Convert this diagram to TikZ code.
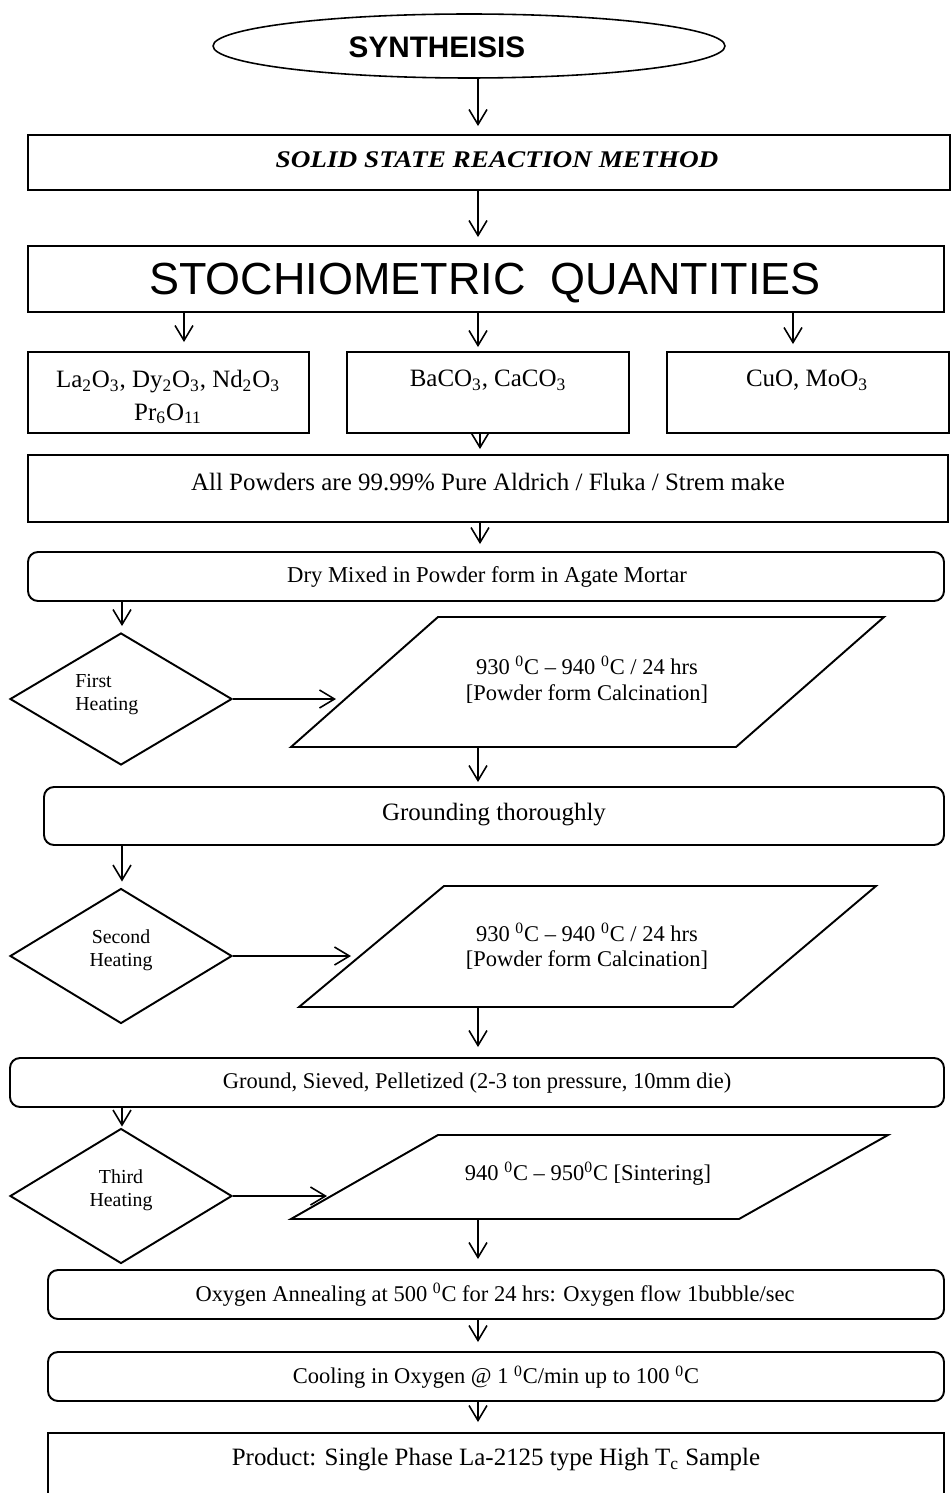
\documentclass[tikz,border=0pt]{standalone}
\usepackage{graphicx}
\usepackage{fontspec}
\setmainfont{Liberation Serif}
\newfontfamily\arialf{Liberation Sans}
\usetikzlibrary{shapes.geometric,arrows.meta,fit}
\newcommand\chsub[1]{\textsubscript{#1}}
\newcommand\degz{\textsuperscript{0}}
\begin{document}
\begin{tikzpicture}[x=0.02cm,y=-0.02cm,
  box/.style={draw,line width=1.1pt,inner sep=0pt},
  rbox/.style={box,rounded corners=0.2cm},
  dia/.style={diamond,draw,line width=1.1pt,inner sep=0pt,minimum width=4.44cm,minimum height=2.70cm},
  para/.style={draw,line width=1.1pt,line join=miter},
  arr/.style={line width=0.9pt,-{Straight Barb[length=0.3cm,width=0.36cm,line width=0.9pt]}},
  lbl/.style={inner sep=0pt,align=center},
  fbig/.style={font=\fontsize{14.2}{18.7}\selectfont},
  fmid/.style={font=\fontsize{12.8}{14.7}\selectfont},
  fsmall/.style={font=\fontsize{11.3}{13.3}\selectfont}]
\useasboundingbox (0,0) rectangle (951,1493);
\clip (0,0) rectangle (951,1493);
% column coordinates
\coordinate (cx) at (478,0);
\coordinate (c1) at (184,0);
\coordinate (c2) at (480,0);
\coordinate (c3) at (793,0);
\coordinate (cl) at (122,0);
% ellipse
\node[ellipse,draw,line width=0.9pt,minimum width=10.24cm,minimum height=1.28cm,inner sep=0pt] (ell) at (469,46) {};
\node[lbl,font=\arialf\bfseries\fontsize{16.9}{20}\selectfont] (tell) at (437,47) {SYNTHEISIS};
% solid state
\node[box,fit={(28,135)(950,190)}] (solid) {};
\node[lbl,font=\bfseries\itshape\fontsize{13.6}{16}\selectfont] (tsolid) at (497,160) {\scalebox{1.14}[1]{SOLID STATE REACTION METHOD}};
% stoichiometric
\node[box,fit={(28,246)(944,312)}] (stoch) {};
\node[lbl,font=\arialf\fontsize{25.6}{30}\selectfont] (tstoch) at (485,283) {STOCHIOMETRIC\ \ QUANTITIES};
% three boxes
\node[box,fit={(28,352)(309,433)}] (b1) {};
\node[box,fit={(347,352)(629,433)}] (b2) {};
\node[box,fit={(667,352)(949,433)}] (b3) {};
\node[lbl,fbig] (tb1) at (168,397) {La\chsub{2}O\chsub{3}, Dy\chsub{2}O\chsub{3}, Nd\chsub{2}O\chsub{3}\\Pr\chsub{6}O\chsub{11}};
\node[lbl,fbig] (tb2) at (488,380) {BaCO\chsub{3}, CaCO\chsub{3}};
\node[lbl,fbig] (tb3) at (807,380) {CuO, MoO\chsub{3}};
% all powders
\node[box,fit={(28,455)(948,522)}] (allp) {};
\node[lbl,fbig] (tallp) at (488,482) {All Powders are 99.99\% Pure Aldrich / Fluka / Strem make};
% dry mixed
\node[rbox,fit={(28,552)(944,601)}] (dry) {};
\node[lbl,font=\fontsize{12.9}{15}\selectfont] (tdry) at (487,577) {Dry Mixed in Powder form in Agate Mortar};
% first heating
\node[dia,minimum height=2.64cm] (d1) at (121,699) {};
\node[lbl,fsmall,anchor=west,align=left] (td1) at (75,694.5) {First\\Heating};
\draw[para] (438,617) -- (884,617) -- (736,747) -- (291,747) -- cycle;
\coordinate (p1in) at (336,699);
\coordinate (p1b) at (478,747);
\node[lbl,fmid] (tp1) at (587,680) {930 \degz C – 940 \degz C / 24 hrs\\{[}Powder form Calcination{]}};
% grounding
\node[rbox,fit={(44,787)(944,845)}] (grd) {};
\node[lbl,fbig] (tgrd) at (494,815) {Grounding thoroughly};
% second heating
\node[dia] (d2) at (121,956) {};
\node[lbl,fsmall] (td2) at (121,950) {Second\\Heating};
\draw[para] (444,886) -- (876,886) -- (733,1007) -- (299,1007) -- cycle;
\coordinate (p2in) at (351,956);
\coordinate (p2b) at (478,1007);
\node[lbl,fmid] (tp2) at (587,946.5) {930 \degz C – 940 \degz C / 24 hrs\\{[}Powder form Calcination{]}};
% ground sieved
\node[rbox,fit={(10,1058)(944,1107)}] (gsp) {};
\node[lbl,fmid] (tgsp) at (477,1083) {Ground, Sieved, Pelletized (2-3 ton pressure, 10mm die)};
% third heating
\node[dia] (d3) at (121,1196) {};
\node[lbl,fsmall] (td3) at (121,1190) {Third\\Heating};
\draw[para] (438,1135) -- (888,1135) -- (739,1219) -- (291,1219) -- cycle;
\coordinate (p3in) at (327,1196);
\coordinate (p3b) at (478,1219);
\node[lbl,fmid] (tp3) at (588,1174) {940 \degz C – 950\degz C {[}Sintering{]}};
% oxygen annealing
\node[rbox,fit={(48,1270)(944,1319)}] (oxy) {};
\node[lbl,fmid] (toxy) at (495,1295) {Oxygen Annealing at 500 \degz C for 24 hrs: Oxygen flow 1bubble/sec};
% cooling
\node[rbox,fit={(48,1352)(944,1401)}] (cool) {};
\node[lbl,fmid] (tcool) at (496,1377) {Cooling in Oxygen @ 1 \degz C/min up to 100 \degz C};
% product
\node[box,fit={(48,1433)(944,1520)}] (prod) {};
\node[lbl,fbig] (tprod) at (496,1460) {Product: Single Phase La-2125 type High T\chsub{c} Sample};
% connectors
\draw[arr,shorten >=0.16cm] (cx |- ell.south) -- (cx |- solid.north);
\draw[arr,shorten >=0.16cm] (cx |- solid.south) -- (cx |- stoch.north);
\draw[arr,shorten >=0.18cm] (c1 |- stoch.south) -- (c1 |- b1.north);
\draw[arr,shorten >=0.08cm] (cx |- stoch.south) -- (cx |- b2.north);
\draw[arr,shorten >=0.14cm] (c3 |- stoch.south) -- (c3 |- b3.north);
\draw[arr,shorten >=0.10cm] (c2 |- b2.south) -- (c2 |- allp.north);
\draw[arr,shorten >=0.14cm] (c2 |- allp.south) -- (c2 |- dry.north);
\draw[arr,shorten >=0.12cm] (cl |- dry.south) -- (cl |- d1.north);
\draw[arr] (d1.east) -- (p1in);
\draw[arr,shorten >=0.08cm] (p1b) -- (cx |- grd.north);
\draw[arr,shorten >=0.12cm] (cl |- grd.south) -- (cl |- d2.north);
\draw[arr] (d2.east) -- (p2in);
\draw[arr,shorten >=0.2cm] (p2b) -- (cx |- gsp.north);
\draw[arr,shorten >=0.02cm] (cl |- gsp.south) -- (cl |- d3.north);
\draw[arr] (d3.east) -- (p3in);
\draw[arr,shorten >=0.2cm] (p3b) -- (cx |- oxy.north);
\draw[arr,shorten >=0.18cm] (cx |- oxy.south) -- (cx |- cool.north);
\draw[arr,shorten >=0.2cm] (cx |- cool.south) -- (cx |- prod.north);
\end{tikzpicture}
\end{document}
